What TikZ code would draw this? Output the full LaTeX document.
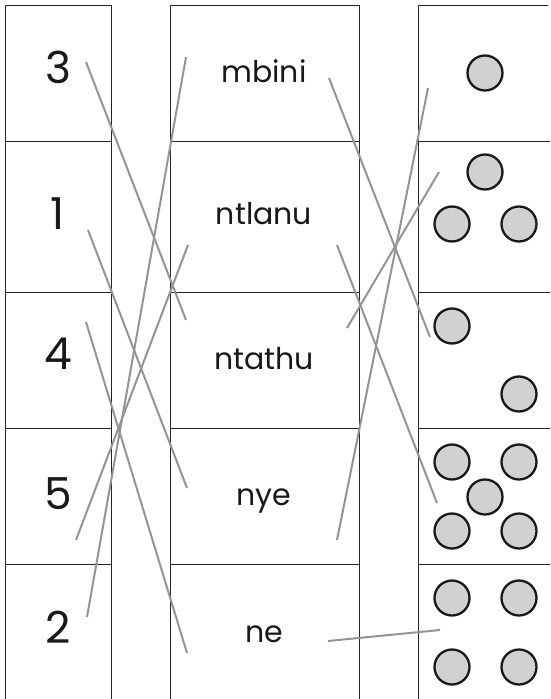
\documentclass[tikz,border=0pt]{standalone}
\usepackage{fontspec}
\setmainfont{Poppins}
\begin{document}
\begin{tikzpicture}[x=1pt,y=-1pt,
  frame/.style={draw=black!85,line width=1pt},
  digit/.style={anchor=base,inner sep=0pt,font=\fontsize{44}{44}\selectfont,text=black!90},
  word/.style={anchor=base,inner sep=0pt,font=\fontsize{30}{30}\selectfont,text=black!90},
  dot/.style={circle,draw=black!90,line width=2.3pt,fill=black!18,minimum size=35pt,inner sep=0pt},
  link/.style={draw=black!42,line width=2pt}]
\useasboundingbox (0,0) rectangle (550,699);
\fill[white] (0,0) rectangle (550,699);
% columns
\draw[frame] (5,699) -- (5,5) -- (111,5) -- (111,699);
\draw[frame] (170,699) -- (170,5) -- (359,5) -- (359,699);
\draw[frame] (418,699) -- (418,5) -- (548,5);
\foreach \y in {141,292,428,564}{
  \draw[frame] (5,\y) -- (111,\y);
  \draw[frame] (170,\y) -- (359,\y);
  \draw[frame] (418,\y) -- (550,\y);
}
% digits
\node[digit] (d3) at (58,83) {3};
\node[digit] (d1) at (58,229) {1};
\node[digit] (d4) at (58,369) {4};
\node[digit] (d5) at (58,509) {5};
\node[digit] (d2) at (58,643) {2};
% words
\node[word] (w2) at (264,82) {mbini};
\node[word] (w5) at (264,224) {ntlanu};
\node[word] (w3) at (264,369) {ntathu};
\node[word] (w1) at (264,505) {nye};
\node[word] (w4) at (264,642) {ne};
% dots
\node[dot] (a1) at (485,73) {};
\node[dot] (b1) at (485,172) {};
\node[dot] (b2) at (452,224) {};
\node[dot] (b3) at (519,224) {};
\node[dot] (c1) at (452,326) {};
\node[dot] (c2) at (519,394) {};
\node[dot] (e1) at (452,462) {};
\node[dot] (e2) at (519,462) {};
\node[dot] (e3) at (485,497) {};
\node[dot] (e4) at (452,531) {};
\node[dot] (e5) at (519,531) {};
\node[dot] (f1) at (452,598) {};
\node[dot] (f2) at (519,598) {};
\node[dot] (f3) at (452,667) {};
\node[dot] (f4) at (519,667) {};
% link end points
\coordinate (p3) at (86,62);
\coordinate (p1) at (88,230);
\coordinate (p4) at (86,322);
\coordinate (p5) at (76,540);
\coordinate (p2) at (87,617);
\coordinate (q2l) at (186,57);
\coordinate (q5l) at (188,245);
\coordinate (q3l) at (186,320);
\coordinate (q1l) at (187,488);
\coordinate (q4l) at (187,653);
\coordinate (q2r) at (329,78);
\coordinate (q5r) at (337,245);
\coordinate (q3r) at (347,328);
\coordinate (q1r) at (337,540);
\coordinate (q4r) at (328,641);
\coordinate (ra) at (428,88);
\coordinate (rb) at (439,172);
\coordinate (rc) at (430,337);
\coordinate (re) at (437,503);
\coordinate (rf) at (440,630);
% links
\draw[link] (p3) -- (q3l);
\draw[link] (p1) -- (q1l);
\draw[link] (p4) -- (q4l);
\draw[link] (p5) -- (q5l);
\draw[link] (p2) -- (q2l);
\draw[link] (q2r) -- (rc);
\draw[link] (q5r) -- (re);
\draw[link] (q3r) -- (rb);
\draw[link] (q1r) -- (ra);
\draw[link] (q4r) -- (rf);
\end{tikzpicture}
\end{document}
